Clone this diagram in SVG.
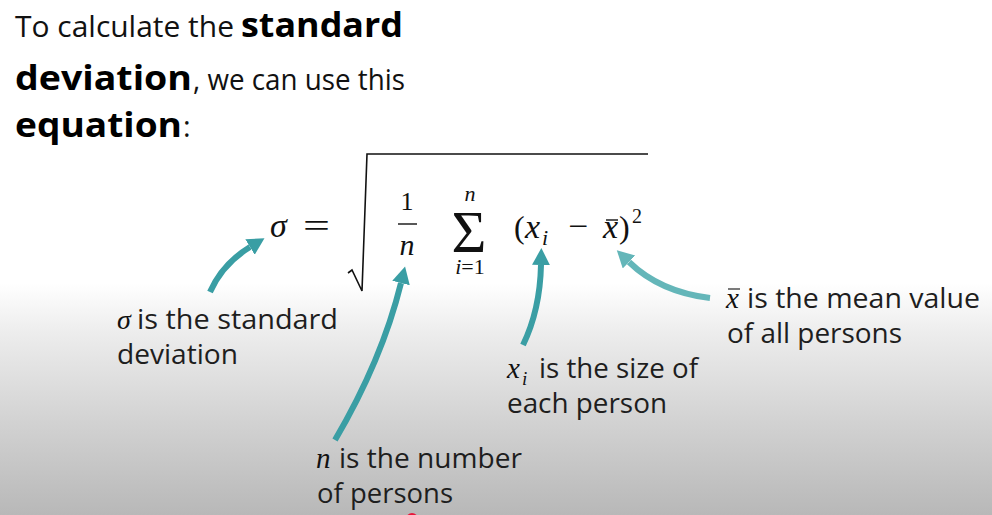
<svg xmlns="http://www.w3.org/2000/svg" width="992" height="515" viewBox="0 0 992 515">
  <defs>
    <linearGradient id="bg" x1="0" y1="0" x2="0" y2="515" gradientUnits="userSpaceOnUse">
      <stop offset="0" stop-color="#ffffff"/>
      <stop offset="0.55" stop-color="#ffffff"/>
      <stop offset="0.65" stop-color="#ececec"/>
      <stop offset="0.82" stop-color="#d2d2d2"/>
      <stop offset="1" stop-color="#b8b8b8"/>
    </linearGradient>
    <marker id="headA" markerUnits="userSpaceOnUse" markerWidth="20" markerHeight="20" refX="0" refY="9" orient="auto">
      <path d="M0,0 L17,9 L0,18 Z" fill="#3a9ea4"/>
    </marker>
    <marker id="headB" markerUnits="userSpaceOnUse" markerWidth="20" markerHeight="20" refX="0" refY="9" orient="auto">
      <path d="M0,0 L17,9 L0,18 Z" fill="#64b6b9"/>
    </marker>
    <style>
      .reg { font-family: "Open Sans", "Noto Sans", "Liberation Sans", sans-serif; font-size: 29px; fill: #111; }
      .bold { font-family: "Open Sans", "Noto Sans", "Liberation Sans", sans-serif; font-size: 34px; font-weight: bold; fill: #000; }
      .lab { font-family: "Open Sans", "Noto Sans", "Liberation Sans", sans-serif; font-size: 27px; fill: #1e1e1e; }
      .mi { font-family: "Liberation Serif", "DejaVu Serif", serif; font-style: italic; fill: #111; }
      .mr { font-family: "Liberation Serif", "DejaVu Serif", serif; fill: #111; }
      .arrow { fill: none; stroke: #3a9ea4; stroke-width: 6; stroke-linecap: butt; marker-end: url(#headA); }
      .arrowL { fill: none; stroke: #64b6b9; stroke-width: 6; stroke-linecap: butt; marker-end: url(#headB); }
    </style>
  </defs>

  <rect x="0" y="0" width="992" height="515" fill="url(#bg)"/>

  <g id="title">
    <text class="reg" x="15" y="37" textLength="219" lengthAdjust="spacingAndGlyphs">To calculate the</text>
    <text class="bold" x="241" y="37" textLength="162" lengthAdjust="spacingAndGlyphs">standard</text>
    <text class="bold" x="15" y="90" textLength="177" lengthAdjust="spacingAndGlyphs">deviation</text>
    <text class="reg" x="193" y="90" textLength="212" lengthAdjust="spacingAndGlyphs">, we can use this</text>
    <text class="bold" x="15" y="137" textLength="167" lengthAdjust="spacingAndGlyphs">equation</text>
    <text class="reg" x="183" y="137">:</text>
  </g>

  <g id="equation">
    <text class="mi" x="270" y="237" font-size="34">σ</text>
    <text class="mr" x="303" y="237" font-size="34" textLength="27" lengthAdjust="spacingAndGlyphs">=</text>
    <path d="M348,273 L352,270 L362,291 L367,154 L648,154" fill="none" stroke="#111" stroke-width="1.6"/>
    <text class="mr" x="407" y="210" font-size="26" text-anchor="middle">1</text>
    <line x1="398" y1="224" x2="417" y2="224" stroke="#111" stroke-width="1.4"/>
    <text class="mi" x="407" y="255" font-size="30" text-anchor="middle">n</text>
    <text class="mi" x="470" y="201" font-size="22" text-anchor="middle">n</text>
    <text class="mr" x="469" y="252" font-size="60" text-anchor="middle">Σ</text>
    <text x="470" y="274" font-size="22" text-anchor="middle"><tspan class="mi">i</tspan><tspan class="mr">=1</tspan></text>
    <text class="mr" x="514" y="238" font-size="32">(</text>
    <text class="mi" x="525" y="238" font-size="34">x</text>
    <text class="mi" x="542" y="245" font-size="22">i</text>
    <text class="mr" x="568" y="237" font-size="32" textLength="20" lengthAdjust="spacingAndGlyphs">−</text>
    <text class="mi" x="603" y="238" font-size="34">x</text>
    <line x1="606" y1="220" x2="618" y2="220" stroke="#111" stroke-width="1.4"/>
    <text class="mr" x="619" y="238" font-size="32">)</text>
    <text class="mr" x="632" y="223" font-size="20">2</text>
  </g>

  <g id="connectors">
    <path class="arrow" d="M210,292 C218,274 232,258 250,247"/>
    <path class="arrow" d="M335,440 Q382,360 401,283"/>
    <path class="arrow" d="M523,345 Q540,310 541,265"/>
    <path class="arrowL" d="M710,298 Q660,292 629,262"/>
  </g>

  <g id="label-sigma">
    <text class="mi" x="117" y="329" font-size="28">σ</text>
    <text class="lab" x="137" y="329" textLength="201" lengthAdjust="spacingAndGlyphs">is the standard</text>
    <text class="lab" x="117" y="364" textLength="121" lengthAdjust="spacingAndGlyphs">deviation</text>
  </g>

  <g id="label-xi">
    <text class="mi" x="507" y="378" font-size="29">x</text>
    <text class="mi" x="522" y="385" font-size="19">i</text>
    <text class="lab" x="539" y="378" textLength="159" lengthAdjust="spacingAndGlyphs">is the size of</text>
    <text class="lab" x="507" y="413" textLength="160" lengthAdjust="spacingAndGlyphs">each person</text>
  </g>

  <g id="label-n">
    <text class="mi" x="316" y="468" font-size="29">n</text>
    <text class="lab" x="339" y="468" textLength="183" lengthAdjust="spacingAndGlyphs">is the number</text>
    <text class="lab" x="317" y="503" textLength="136" lengthAdjust="spacingAndGlyphs">of persons</text>
  </g>

  <g id="label-xbar">
    <text class="mi" x="726" y="308" font-size="29" fill="#333">x</text>
    <line x1="728" y1="289" x2="740" y2="289" stroke="#333" stroke-width="1.3"/>
    <text class="lab" x="747" y="308" textLength="233" lengthAdjust="spacingAndGlyphs" fill="#333">is the mean value</text>
    <text class="lab" x="727" y="343" textLength="175" lengthAdjust="spacingAndGlyphs" fill="#333">of all persons</text>
  </g>

  <circle cx="412" cy="519" r="6" fill="#e8173a"/>
</svg>
